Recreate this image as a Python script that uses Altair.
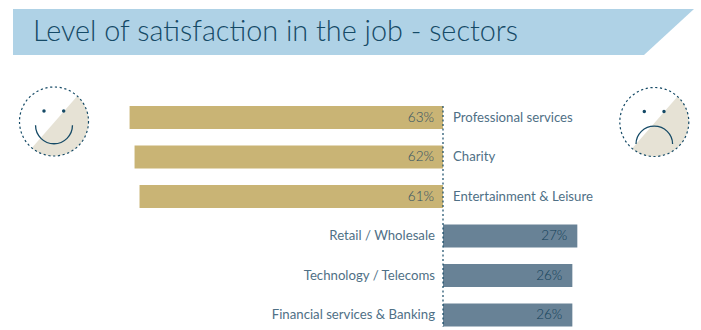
import altair as alt
import pandas as pd

# Survey results: share of people satisfied / dissatisfied per sector
sectors = ["Professional services", "Charity", "Entertainment & Leisure",
           "Retail / Wholesale", "Technology / Telecoms", "Financial services & Banking"]
percent = [63, 62, 61, 27, 26, 26]
sides = ["satisfied", "satisfied", "satisfied", "dissatisfied", "dissatisfied", "dissatisfied"]

title_text = "Level of satisfaction in the job - sectors"

# Palette
BANNER = "#afd2e6"
GOLD = "#c9b475"
SLATE = "#688296"
INK = "#154a66"
LABEL = "#4f7086"
BEIGE = "#e6e2d5"
FONT = "Lato"

W, H = 701, 330
ZERO_X = 443
PX_PER_PCT = 4.975

df = pd.DataFrame({"sector": sectors, "pct": percent, "side": sides})
df["signed"] = [p if s == "dissatisfied" else -p for p, s in zip(percent, sides)]
df["label"] = [f"{p}%" for p in percent]

x_scale = alt.Scale(domain=[-ZERO_X / PX_PER_PCT, (W - ZERO_X) / PX_PER_PCT], range=[0, W], nice=False, zero=False)
y_scale = alt.Scale(domain=sectors, range=[97.75, 334.75], paddingInner=0.418, paddingOuter=0.209)
x_enc = alt.X("signed:Q", scale=x_scale, axis=None)
y_enc = alt.Y("sector:N", scale=y_scale, axis=None, sort=sectors)
zero_enc = alt.X("z:Q", scale=x_scale, axis=None)

base = alt.Chart(df)
gold_only = alt.datum.side == "satisfied"
slate_only = alt.datum.side == "dissatisfied"

bars = base.mark_bar(size=23).transform_calculate(z="0").encode(
    x=x_enc, x2=alt.X2("z:Q"), y=y_enc,
    color=alt.Color("side:N", scale=alt.Scale(domain=["satisfied", "dissatisfied"], range=[GOLD, SLATE]), legend=None),
)

axis_line = alt.Chart(pd.DataFrame({"z": [0]})).mark_rule(
    color=INK, strokeWidth=1.2, strokeDash=[2, 2.5]
).encode(x=zero_enc, y=alt.value(106), y2=alt.value(327))

value_style = dict(font=FONT, fontSize=13.5, fontWeight=300, baseline="middle")
label_style = dict(font=FONT, fontSize=13.2, fontWeight=400, baseline="middle", color=LABEL)

value_left = base.transform_filter(gold_only).mark_text(
    align="right", dx=-9, color="#2f4f62", **value_style
).transform_calculate(z="0").encode(x=zero_enc, y=y_enc, text="label:N")

value_right = base.transform_filter(slate_only).mark_text(
    align="right", dx=-10, color="#123f58", **value_style
).encode(x=x_enc, y=y_enc, text="label:N")

name_right = base.transform_filter(gold_only).mark_text(
    align="left", dx=10, **label_style
).transform_calculate(z="0").encode(x=zero_enc, y=y_enc, text="sector:N")

name_left = base.transform_filter(slate_only).mark_text(
    align="right", dx=-8, **label_style
).transform_calculate(z="0").encode(x=zero_enc, y=y_enc, text="sector:N")

# Header band with its slanted right end
banner_x = [13, 644, 694]
banner_top = [9, 9, 9]
banner_bottom = [55, 55, 9]
banner = alt.Chart(pd.DataFrame({"x": banner_x, "t": banner_top, "b": banner_bottom})).mark_area(
    color=BANNER, interpolate="linear"
).encode(
    x=alt.X("x:Q", scale=None, axis=None),
    y=alt.Y("t:Q", scale=None, axis=None),
    y2=alt.Y2("b:Q"),
)

title = alt.Chart(pd.DataFrame({"t": [title_text]})).mark_text(
    font=FONT, fontSize=28.8, fontWeight=300, color=INK, align="left", baseline="alphabetic"
).encode(x=alt.value(33), y=alt.value(41), text="t:N")

# Face icons: custom symbols are drawn in a unit circle around their centre,
# with curves written as cubic segments so they scale with the symbol size
SEGMENT = "M0.675,-0.737 C1.076,-0.370 1.110,0.250 0.752,0.659 C0.394,1.068 -0.227,1.116 -0.643,0.766 Z"
SMILE = "M-0.535,0.11 C-0.535,0.405 -0.295,0.645 0,0.645 C0.295,0.645 0.535,0.405 0.535,0.11"
FROWN = "M-0.53,0.64 C-0.53,0.353 -0.293,0.12 0,0.12 C0.293,0.12 0.53,0.353 0.53,0.64"
FACE_SIZE = 69 ** 2


def face(cx, cy, mouth, eye_a, eye_b):
    cxs = pd.DataFrame({"cx": [cx], "cy": [cy]})
    xy = dict(x=alt.X("cx:Q", scale=None, axis=None), y=alt.Y("cy:Q", scale=None, axis=None))
    shade = alt.Chart(cxs).mark_point(shape=SEGMENT, size=FACE_SIZE, filled=True, color=BEIGE, opacity=1).encode(**xy)
    ring = alt.Chart(cxs).mark_point(
        shape="circle", size=FACE_SIZE, filled=False, color=INK, strokeWidth=1.2, strokeDash=[2.2, 2.6], opacity=1
    ).encode(**xy)
    arc = alt.Chart(cxs).mark_point(
        shape=mouth, size=FACE_SIZE, filled=False, color=INK, strokeWidth=1.3, opacity=1
    ).encode(**xy)
    eyes = alt.Chart(pd.DataFrame({"cx": [eye_a, eye_b], "cy": [cy - 10.5] * 2})).mark_point(
        shape="circle", size=12, filled=True, color=INK, opacity=1
    ).encode(**xy)
    return [shade, ring, arc, eyes]


happy = face(54, 121.5, SMILE, 44, 63.7)
sad = face(654.3, 122, FROWN, 644.3, 664)

chart = alt.layer(
    banner, title, *happy, *sad, bars, axis_line, value_left, value_right, name_right, name_left
).resolve_scale(x="independent", y="independent", color="independent").properties(
    width=W, height=H, padding=0, autosize=alt.AutoSizeParams(type="none"),
    background="white",
).configure_view(stroke=None)

chart.save("out.html", embed_options={"renderer": "svg", "actions": False})
